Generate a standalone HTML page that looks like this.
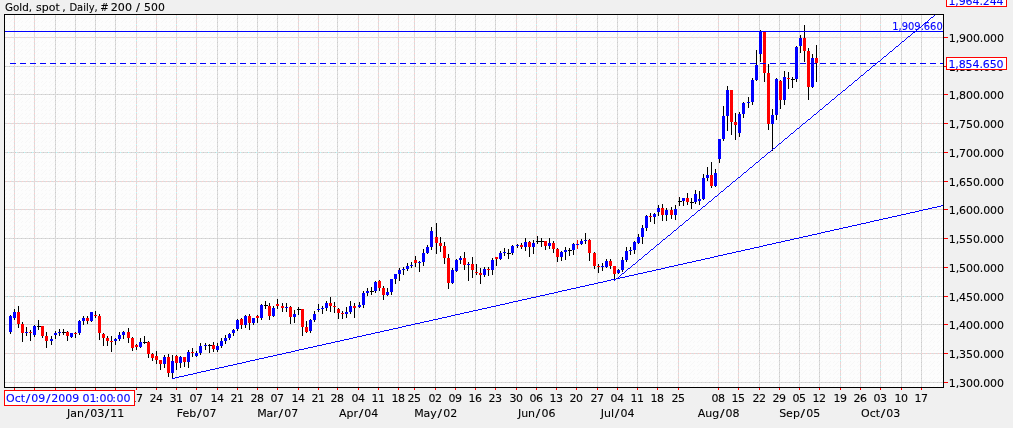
<!DOCTYPE html>
<html><head><meta charset="utf-8"><title>Gold, spot, Daily</title>
<style>
html,body{margin:0;padding:0;background:#f0f0f0;overflow:hidden}
#c{position:relative;width:1013px;height:428px;background:#f0f0f0;overflow:hidden;font-family:"DejaVu Sans","Liberation Sans",sans-serif;font-size:11px;line-height:14px;color:#000;white-space:nowrap}
#c svg{position:absolute;left:0;top:0}
.tx text{font-family:"DejaVu Sans","Liberation Sans",sans-serif;font-size:11px;white-space:pre;stroke-width:0.1px;stroke-linejoin:round}
.tx text{stroke:#000}.tx text[fill]{stroke:#0000ff}
.tx .ti{letter-spacing:0px}
.tx .yl{letter-spacing:-0.1px}
.tx .xl{letter-spacing:-0.4px}
.tx .ml{letter-spacing:0px}
.tx .dt{letter-spacing:0px}
.tx .pl{font-family:"DejaVu Sans Condensed","DejaVu Sans","Liberation Sans",sans-serif;font-size:11px;letter-spacing:0px}
</style></head><body><div id="c">
<svg width="1013" height="428" viewBox="0 0 1013 428" shape-rendering="crispEdges">
<defs><pattern id="h" width="8" height="8" patternUnits="userSpaceOnUse"><rect width="8" height="8" fill="#fdfdfd"/><rect x="2" y="1" width="1" height="1" fill="#f7f7f7"/><rect x="6" y="1" width="1" height="1" fill="#f7f7f7"/><rect x="1" y="2" width="1" height="1" fill="#f7f7f7"/><rect x="5" y="2" width="1" height="1" fill="#f7f7f7"/><rect x="4" y="3" width="1" height="1" fill="#f7f7f7"/><rect x="3" y="4" width="1" height="1" fill="#f7f7f7"/><rect x="2" y="5" width="1" height="1" fill="#f7f7f7"/><rect x="6" y="5" width="1" height="1" fill="#f7f7f7"/><rect x="1" y="6" width="1" height="1" fill="#f7f7f7"/><rect x="5" y="6" width="1" height="1" fill="#f7f7f7"/></pattern><pattern id="gp" width="8" height="8" patternUnits="userSpaceOnUse"><rect width="8" height="8" fill="#dddddd"/><rect x="0" y="0" width="1" height="1" fill="#b8ffff"/><rect x="0" y="1" width="1" height="1" fill="#d9d9d9"/><rect x="0" y="3" width="1" height="1" fill="#ffcaca"/><rect x="0" y="5" width="1" height="1" fill="#d9d9d9"/><rect x="0" y="7" width="1" height="1" fill="#ffcaca"/><rect x="1" y="0" width="1" height="1" fill="#d9d9d9"/><rect x="1" y="2" width="1" height="1" fill="#cbcbcb"/><rect x="1" y="4" width="1" height="1" fill="#d9d9d9"/><rect x="1" y="6" width="1" height="1" fill="#cbcbcb"/><rect x="2" y="1" width="1" height="1" fill="#ffcaca"/><rect x="2" y="3" width="1" height="1" fill="#d9d9d9"/><rect x="2" y="5" width="1" height="1" fill="#ffcaca"/><rect x="2" y="7" width="1" height="1" fill="#d9d9d9"/><rect x="3" y="0" width="1" height="1" fill="#cbcbcb"/><rect x="3" y="2" width="1" height="1" fill="#d9d9d9"/><rect x="3" y="4" width="1" height="1" fill="#cbcbcb"/><rect x="3" y="6" width="1" height="1" fill="#d9d9d9"/><rect x="4" y="1" width="1" height="1" fill="#d9d9d9"/><rect x="4" y="3" width="1" height="1" fill="#ffcaca"/><rect x="4" y="5" width="1" height="1" fill="#d9d9d9"/><rect x="4" y="7" width="1" height="1" fill="#ffcaca"/><rect x="5" y="0" width="1" height="1" fill="#d9d9d9"/><rect x="5" y="2" width="1" height="1" fill="#cbcbcb"/><rect x="5" y="4" width="1" height="1" fill="#d9d9d9"/><rect x="5" y="6" width="1" height="1" fill="#cbcbcb"/><rect x="6" y="1" width="1" height="1" fill="#ffcaca"/><rect x="6" y="3" width="1" height="1" fill="#d9d9d9"/><rect x="6" y="5" width="1" height="1" fill="#ffcaca"/><rect x="6" y="7" width="1" height="1" fill="#d9d9d9"/><rect x="7" y="0" width="1" height="1" fill="#cbcbcb"/><rect x="7" y="2" width="1" height="1" fill="#d9d9d9"/><rect x="7" y="4" width="1" height="1" fill="#cbcbcb"/><rect x="7" y="6" width="1" height="1" fill="#d9d9d9"/></pattern></defs>
<rect x="4" y="14" width="940" height="374" fill="url(#h)"/>
<g fill="url(#gp)"><rect x="5" y="37" width="938" height="1"/><rect x="5" y="66" width="938" height="1"/><rect x="5" y="94" width="938" height="1"/><rect x="5" y="123" width="938" height="1"/><rect x="5" y="152" width="938" height="1"/><rect x="5" y="181" width="938" height="1"/><rect x="5" y="209" width="938" height="1"/><rect x="5" y="238" width="938" height="1"/><rect x="5" y="267" width="938" height="1"/><rect x="5" y="296" width="938" height="1"/><rect x="5" y="324" width="938" height="1"/><rect x="5" y="353" width="938" height="1"/><rect x="5" y="382" width="938" height="1"/><rect x="14" y="15" width="1" height="372"/><rect x="34" y="15" width="1" height="372"/><rect x="55" y="15" width="1" height="372"/><rect x="75" y="15" width="1" height="372"/><rect x="95" y="15" width="1" height="372"/><rect x="115" y="15" width="1" height="372"/><rect x="136" y="15" width="1" height="372"/><rect x="156" y="15" width="1" height="372"/><rect x="176" y="15" width="1" height="372"/><rect x="196" y="15" width="1" height="372"/><rect x="217" y="15" width="1" height="372"/><rect x="237" y="15" width="1" height="372"/><rect x="257" y="15" width="1" height="372"/><rect x="277" y="15" width="1" height="372"/><rect x="298" y="15" width="1" height="372"/><rect x="318" y="15" width="1" height="372"/><rect x="337" y="15" width="1" height="372"/><rect x="358" y="15" width="1" height="372"/><rect x="378" y="15" width="1" height="372"/><rect x="398" y="15" width="1" height="372"/><rect x="414" y="15" width="1" height="372"/><rect x="435" y="15" width="1" height="372"/><rect x="455" y="15" width="1" height="372"/><rect x="475" y="15" width="1" height="372"/><rect x="495" y="15" width="1" height="372"/><rect x="516" y="15" width="1" height="372"/><rect x="536" y="15" width="1" height="372"/><rect x="556" y="15" width="1" height="372"/><rect x="576" y="15" width="1" height="372"/><rect x="597" y="15" width="1" height="372"/><rect x="617" y="15" width="1" height="372"/><rect x="637" y="15" width="1" height="372"/><rect x="657" y="15" width="1" height="372"/><rect x="678" y="15" width="1" height="372"/><rect x="718" y="15" width="1" height="372"/><rect x="738" y="15" width="1" height="372"/><rect x="759" y="15" width="1" height="372"/><rect x="779" y="15" width="1" height="372"/><rect x="799" y="15" width="1" height="372"/><rect x="819" y="15" width="1" height="372"/><rect x="840" y="15" width="1" height="372"/><rect x="860" y="15" width="1" height="372"/><rect x="880" y="15" width="1" height="372"/><rect x="901" y="15" width="1" height="372"/><rect x="921" y="15" width="1" height="372"/></g>
<g><rect x="14" y="388" width="1" height="2" fill="#ff0000"/><rect x="34" y="388" width="1" height="2" fill="#ff0000"/><rect x="55" y="388" width="1" height="2" fill="#ff0000"/><rect x="75" y="388" width="1" height="2" fill="#ff0000"/><rect x="95" y="388" width="1" height="2" fill="#ff0000"/><rect x="115" y="388" width="1" height="2" fill="#ff0000"/><rect x="136" y="388" width="1" height="2" fill="#ff0000"/><rect x="156" y="388" width="1" height="2" fill="#ff0000"/><rect x="176" y="388" width="1" height="2" fill="#ff0000"/><rect x="196" y="388" width="1" height="2" fill="#ff0000"/><rect x="217" y="388" width="1" height="2" fill="#ff0000"/><rect x="237" y="388" width="1" height="2" fill="#ff0000"/><rect x="257" y="388" width="1" height="2" fill="#ff0000"/><rect x="277" y="388" width="1" height="2" fill="#ff0000"/><rect x="298" y="388" width="1" height="2" fill="#ff0000"/><rect x="318" y="388" width="1" height="2" fill="#ff0000"/><rect x="337" y="388" width="1" height="2" fill="#ff0000"/><rect x="358" y="388" width="1" height="2" fill="#ff0000"/><rect x="378" y="388" width="1" height="2" fill="#ff0000"/><rect x="398" y="388" width="1" height="2" fill="#ff0000"/><rect x="414" y="388" width="1" height="2" fill="#ff0000"/><rect x="435" y="388" width="1" height="2" fill="#ff0000"/><rect x="455" y="388" width="1" height="2" fill="#ff0000"/><rect x="475" y="388" width="1" height="2" fill="#ff0000"/><rect x="495" y="388" width="1" height="2" fill="#ff0000"/><rect x="516" y="388" width="1" height="2" fill="#ff0000"/><rect x="536" y="388" width="1" height="2" fill="#ff0000"/><rect x="556" y="388" width="1" height="2" fill="#ff0000"/><rect x="576" y="388" width="1" height="2" fill="#ff0000"/><rect x="597" y="388" width="1" height="2" fill="#ff0000"/><rect x="617" y="388" width="1" height="2" fill="#ff0000"/><rect x="637" y="388" width="1" height="2" fill="#ff0000"/><rect x="657" y="388" width="1" height="2" fill="#ff0000"/><rect x="678" y="388" width="1" height="2" fill="#ff0000"/><rect x="718" y="388" width="1" height="2" fill="#ff0000"/><rect x="738" y="388" width="1" height="2" fill="#ff0000"/><rect x="759" y="388" width="1" height="2" fill="#ff0000"/><rect x="779" y="388" width="1" height="2" fill="#ff0000"/><rect x="799" y="388" width="1" height="2" fill="#ff0000"/><rect x="819" y="388" width="1" height="2" fill="#ff0000"/><rect x="840" y="388" width="1" height="2" fill="#ff0000"/><rect x="860" y="388" width="1" height="2" fill="#ff0000"/><rect x="880" y="388" width="1" height="2" fill="#ff0000"/><rect x="901" y="388" width="1" height="2" fill="#ff0000"/><rect x="921" y="388" width="1" height="2" fill="#ff0000"/><rect x="944" y="37" width="4" height="1" fill="#ff0000"/><rect x="944" y="66" width="4" height="1" fill="#ff0000"/><rect x="944" y="94" width="4" height="1" fill="#ff0000"/><rect x="944" y="123" width="4" height="1" fill="#ff0000"/><rect x="944" y="152" width="4" height="1" fill="#ff0000"/><rect x="944" y="181" width="4" height="1" fill="#ff0000"/><rect x="944" y="209" width="4" height="1" fill="#ff0000"/><rect x="944" y="238" width="4" height="1" fill="#ff0000"/><rect x="944" y="267" width="4" height="1" fill="#ff0000"/><rect x="944" y="296" width="4" height="1" fill="#ff0000"/><rect x="944" y="324" width="4" height="1" fill="#ff0000"/><rect x="944" y="353" width="4" height="1" fill="#ff0000"/><rect x="944" y="382" width="4" height="1" fill="#ff0000"/></g>
<g><rect x="10" y="315" width="1" height="19" fill="#000"/><rect x="9" y="316" width="3" height="16" fill="#0000ff"/><rect x="14" y="309" width="1" height="11" fill="#000"/><rect x="13" y="312" width="3" height="6" fill="#0000ff"/><rect x="18" y="306" width="1" height="22" fill="#000"/><rect x="17" y="312" width="3" height="12" fill="#ff0000"/><rect x="22" y="322" width="1" height="20" fill="#000"/><rect x="21" y="324" width="3" height="9" fill="#ff0000"/><rect x="26" y="327" width="1" height="9" fill="#000"/><rect x="25" y="332" width="3" height="1" fill="#0000ff"/><rect x="30" y="330" width="1" height="11" fill="#000"/><rect x="29" y="332" width="3" height="1" fill="#ff0000"/><rect x="34" y="325" width="1" height="12" fill="#000"/><rect x="33" y="326" width="3" height="9" fill="#0000ff"/><rect x="38" y="320" width="1" height="10" fill="#000"/><rect x="37" y="326" width="4" height="1" fill="#000"/><rect x="42" y="326" width="1" height="12" fill="#000"/><rect x="41" y="326" width="3" height="10" fill="#ff0000"/><rect x="46" y="332" width="1" height="16" fill="#000"/><rect x="45" y="336" width="3" height="5" fill="#ff0000"/><rect x="51" y="336" width="1" height="9" fill="#000"/><rect x="50" y="339" width="3" height="2" fill="#0000ff"/><rect x="55" y="331" width="1" height="8" fill="#000"/><rect x="54" y="333" width="3" height="2" fill="#0000ff"/><rect x="59" y="329" width="1" height="7" fill="#000"/><rect x="58" y="332" width="3" height="1" fill="#0000ff"/><rect x="63" y="329" width="1" height="6" fill="#000"/><rect x="62" y="332" width="4" height="1" fill="#000"/><rect x="67" y="331" width="1" height="10" fill="#000"/><rect x="66" y="332" width="3" height="4" fill="#ff0000"/><rect x="71" y="333" width="1" height="5" fill="#000"/><rect x="70" y="333" width="3" height="4" fill="#0000ff"/><rect x="75" y="332" width="1" height="6" fill="#000"/><rect x="74" y="333" width="3" height="1" fill="#ff0000"/><rect x="79" y="320" width="1" height="15" fill="#000"/><rect x="78" y="321" width="3" height="12" fill="#0000ff"/><rect x="83" y="316" width="1" height="9" fill="#000"/><rect x="82" y="318" width="3" height="3" fill="#0000ff"/><rect x="87" y="316" width="1" height="8" fill="#000"/><rect x="86" y="318" width="3" height="3" fill="#ff0000"/><rect x="91" y="312" width="1" height="10" fill="#000"/><rect x="90" y="312" width="3" height="9" fill="#0000ff"/><rect x="95" y="311" width="1" height="7" fill="#000"/><rect x="94" y="315" width="3" height="1" fill="#ff0000"/><rect x="99" y="314" width="1" height="26" fill="#000"/><rect x="98" y="316" width="3" height="17" fill="#ff0000"/><rect x="103" y="333" width="1" height="13" fill="#000"/><rect x="102" y="334" width="3" height="4" fill="#ff0000"/><rect x="107" y="336" width="1" height="10" fill="#000"/><rect x="106" y="338" width="3" height="3" fill="#ff0000"/><rect x="111" y="336" width="1" height="16" fill="#000"/><rect x="110" y="341" width="3" height="1" fill="#ff0000"/><rect x="115" y="338" width="1" height="7" fill="#000"/><rect x="114" y="339" width="3" height="2" fill="#0000ff"/><rect x="119" y="332" width="1" height="9" fill="#000"/><rect x="118" y="335" width="3" height="4" fill="#0000ff"/><rect x="123" y="331" width="1" height="8" fill="#000"/><rect x="122" y="332" width="3" height="3" fill="#0000ff"/><rect x="128" y="328" width="1" height="15" fill="#000"/><rect x="127" y="332" width="3" height="6" fill="#ff0000"/><rect x="132" y="337" width="1" height="14" fill="#000"/><rect x="131" y="338" width="3" height="10" fill="#ff0000"/><rect x="136" y="344" width="1" height="6" fill="#000"/><rect x="135" y="345" width="3" height="2" fill="#ff0000"/><rect x="140" y="338" width="1" height="10" fill="#000"/><rect x="139" y="342" width="3" height="5" fill="#0000ff"/><rect x="144" y="336" width="1" height="8" fill="#000"/><rect x="143" y="342" width="4" height="1" fill="#000"/><rect x="148" y="341" width="1" height="17" fill="#000"/><rect x="147" y="342" width="3" height="12" fill="#ff0000"/><rect x="152" y="353" width="1" height="8" fill="#000"/><rect x="151" y="354" width="3" height="4" fill="#ff0000"/><rect x="156" y="351" width="1" height="13" fill="#000"/><rect x="155" y="356" width="3" height="4" fill="#ff0000"/><rect x="160" y="360" width="1" height="10" fill="#000"/><rect x="159" y="360" width="3" height="4" fill="#ff0000"/><rect x="164" y="355" width="1" height="13" fill="#000"/><rect x="163" y="357" width="3" height="7" fill="#0000ff"/><rect x="168" y="354" width="1" height="23" fill="#000"/><rect x="167" y="357" width="3" height="16" fill="#ff0000"/><rect x="172" y="355" width="1" height="24" fill="#000"/><rect x="171" y="361" width="3" height="12" fill="#0000ff"/><rect x="176" y="355" width="1" height="15" fill="#000"/><rect x="175" y="356" width="3" height="7" fill="#ff0000"/><rect x="180" y="356" width="1" height="12" fill="#000"/><rect x="179" y="357" width="3" height="6" fill="#0000ff"/><rect x="184" y="357" width="1" height="10" fill="#000"/><rect x="183" y="357" width="3" height="5" fill="#ff0000"/><rect x="188" y="350" width="1" height="18" fill="#000"/><rect x="187" y="352" width="3" height="10" fill="#0000ff"/><rect x="192" y="348" width="1" height="9" fill="#000"/><rect x="191" y="352" width="3" height="1" fill="#ff0000"/><rect x="196" y="351" width="1" height="6" fill="#000"/><rect x="195" y="353" width="3" height="3" fill="#0000ff"/><rect x="200" y="343" width="1" height="12" fill="#000"/><rect x="199" y="346" width="3" height="7" fill="#0000ff"/><rect x="205" y="343" width="1" height="7" fill="#000"/><rect x="204" y="345" width="3" height="1" fill="#0000ff"/><rect x="209" y="344" width="1" height="9" fill="#000"/><rect x="208" y="345" width="4" height="1" fill="#000"/><rect x="213" y="342" width="1" height="10" fill="#000"/><rect x="212" y="345" width="3" height="4" fill="#ff0000"/><rect x="217" y="343" width="1" height="9" fill="#000"/><rect x="216" y="346" width="3" height="4" fill="#0000ff"/><rect x="221" y="338" width="1" height="10" fill="#000"/><rect x="220" y="341" width="3" height="5" fill="#0000ff"/><rect x="225" y="335" width="1" height="9" fill="#000"/><rect x="224" y="338" width="3" height="3" fill="#0000ff"/><rect x="229" y="333" width="1" height="7" fill="#000"/><rect x="228" y="334" width="3" height="4" fill="#0000ff"/><rect x="233" y="329" width="1" height="7" fill="#000"/><rect x="232" y="330" width="3" height="3" fill="#0000ff"/><rect x="237" y="319" width="1" height="12" fill="#000"/><rect x="236" y="320" width="3" height="9" fill="#0000ff"/><rect x="241" y="318" width="1" height="11" fill="#000"/><rect x="240" y="319" width="3" height="6" fill="#ff0000"/><rect x="245" y="315" width="1" height="13" fill="#000"/><rect x="244" y="316" width="3" height="9" fill="#0000ff"/><rect x="249" y="314" width="1" height="16" fill="#000"/><rect x="248" y="316" width="3" height="7" fill="#ff0000"/><rect x="253" y="318" width="1" height="7" fill="#000"/><rect x="252" y="318" width="3" height="5" fill="#0000ff"/><rect x="257" y="315" width="1" height="8" fill="#000"/><rect x="256" y="316" width="3" height="2" fill="#ff0000"/><rect x="261" y="304" width="1" height="16" fill="#000"/><rect x="260" y="305" width="3" height="13" fill="#0000ff"/><rect x="265" y="301" width="1" height="8" fill="#000"/><rect x="264" y="305" width="4" height="1" fill="#000"/><rect x="269" y="303" width="1" height="17" fill="#000"/><rect x="268" y="306" width="3" height="10" fill="#ff0000"/><rect x="273" y="306" width="1" height="11" fill="#000"/><rect x="272" y="308" width="3" height="8" fill="#0000ff"/><rect x="277" y="299" width="1" height="10" fill="#000"/><rect x="276" y="304" width="3" height="2" fill="#ff0000"/><rect x="282" y="303" width="1" height="9" fill="#000"/><rect x="281" y="306" width="3" height="2" fill="#ff0000"/><rect x="286" y="303" width="1" height="9" fill="#000"/><rect x="285" y="307" width="3" height="1" fill="#0000ff"/><rect x="290" y="306" width="1" height="18" fill="#000"/><rect x="289" y="307" width="3" height="10" fill="#ff0000"/><rect x="294" y="310" width="1" height="13" fill="#000"/><rect x="293" y="314" width="3" height="3" fill="#0000ff"/><rect x="298" y="307" width="1" height="8" fill="#000"/><rect x="297" y="309" width="4" height="1" fill="#000"/><rect x="302" y="309" width="1" height="27" fill="#000"/><rect x="301" y="309" width="3" height="18" fill="#ff0000"/><rect x="306" y="321" width="1" height="12" fill="#000"/><rect x="305" y="327" width="3" height="5" fill="#ff0000"/><rect x="310" y="319" width="1" height="14" fill="#000"/><rect x="309" y="320" width="3" height="11" fill="#0000ff"/><rect x="314" y="311" width="1" height="11" fill="#000"/><rect x="313" y="314" width="3" height="6" fill="#0000ff"/><rect x="318" y="304" width="1" height="8" fill="#000"/><rect x="317" y="309" width="3" height="1" fill="#0000ff"/><rect x="322" y="306" width="1" height="8" fill="#000"/><rect x="321" y="308" width="3" height="1" fill="#0000ff"/><rect x="326" y="301" width="1" height="10" fill="#000"/><rect x="325" y="303" width="3" height="5" fill="#0000ff"/><rect x="330" y="297" width="1" height="15" fill="#000"/><rect x="329" y="303" width="3" height="3" fill="#ff0000"/><rect x="334" y="302" width="1" height="11" fill="#000"/><rect x="333" y="306" width="3" height="1" fill="#ff0000"/><rect x="338" y="308" width="1" height="11" fill="#000"/><rect x="337" y="309" width="3" height="4" fill="#ff0000"/><rect x="342" y="311" width="1" height="8" fill="#000"/><rect x="341" y="313" width="3" height="1" fill="#ff0000"/><rect x="346" y="307" width="1" height="11" fill="#000"/><rect x="345" y="312" width="3" height="2" fill="#0000ff"/><rect x="350" y="301" width="1" height="13" fill="#000"/><rect x="349" y="306" width="3" height="6" fill="#0000ff"/><rect x="354" y="303" width="1" height="15" fill="#000"/><rect x="353" y="306" width="3" height="2" fill="#ff0000"/><rect x="359" y="302" width="1" height="6" fill="#000"/><rect x="358" y="305" width="3" height="2" fill="#0000ff"/><rect x="363" y="291" width="1" height="17" fill="#000"/><rect x="362" y="293" width="3" height="12" fill="#0000ff"/><rect x="367" y="288" width="1" height="8" fill="#000"/><rect x="366" y="291" width="3" height="2" fill="#0000ff"/><rect x="371" y="287" width="1" height="8" fill="#000"/><rect x="370" y="291" width="4" height="1" fill="#000"/><rect x="375" y="281" width="1" height="12" fill="#000"/><rect x="374" y="282" width="3" height="9" fill="#0000ff"/><rect x="379" y="280" width="1" height="11" fill="#000"/><rect x="378" y="281" width="3" height="7" fill="#ff0000"/><rect x="383" y="286" width="1" height="14" fill="#000"/><rect x="382" y="288" width="3" height="7" fill="#ff0000"/><rect x="387" y="288" width="1" height="8" fill="#000"/><rect x="386" y="292" width="3" height="3" fill="#0000ff"/><rect x="391" y="279" width="1" height="16" fill="#000"/><rect x="390" y="279" width="3" height="13" fill="#0000ff"/><rect x="395" y="274" width="1" height="10" fill="#000"/><rect x="394" y="274" width="3" height="5" fill="#0000ff"/><rect x="399" y="268" width="1" height="13" fill="#000"/><rect x="398" y="270" width="3" height="4" fill="#0000ff"/><rect x="403" y="267" width="1" height="8" fill="#000"/><rect x="402" y="269" width="3" height="1" fill="#0000ff"/><rect x="407" y="263" width="1" height="8" fill="#000"/><rect x="406" y="266" width="3" height="3" fill="#0000ff"/><rect x="411" y="262" width="1" height="6" fill="#000"/><rect x="410" y="265" width="3" height="1" fill="#0000ff"/><rect x="415" y="256" width="1" height="11" fill="#000"/><rect x="414" y="260" width="3" height="3" fill="#ff0000"/><rect x="419" y="261" width="1" height="11" fill="#000"/><rect x="418" y="262" width="3" height="1" fill="#0000ff"/><rect x="423" y="249" width="1" height="17" fill="#000"/><rect x="422" y="253" width="3" height="9" fill="#0000ff"/><rect x="427" y="245" width="1" height="9" fill="#000"/><rect x="426" y="247" width="3" height="6" fill="#0000ff"/><rect x="431" y="227" width="1" height="23" fill="#000"/><rect x="430" y="231" width="3" height="16" fill="#0000ff"/><rect x="436" y="223" width="1" height="31" fill="#000"/><rect x="435" y="237" width="3" height="6" fill="#ff0000"/><rect x="440" y="237" width="1" height="15" fill="#000"/><rect x="439" y="243" width="3" height="3" fill="#ff0000"/><rect x="444" y="242" width="1" height="22" fill="#000"/><rect x="443" y="246" width="3" height="12" fill="#ff0000"/><rect x="448" y="254" width="1" height="35" fill="#000"/><rect x="447" y="258" width="3" height="25" fill="#ff0000"/><rect x="452" y="268" width="1" height="16" fill="#000"/><rect x="451" y="270" width="3" height="13" fill="#0000ff"/><rect x="456" y="259" width="1" height="13" fill="#000"/><rect x="455" y="260" width="3" height="11" fill="#0000ff"/><rect x="460" y="256" width="1" height="8" fill="#000"/><rect x="459" y="258" width="3" height="2" fill="#0000ff"/><rect x="464" y="252" width="1" height="18" fill="#000"/><rect x="463" y="258" width="3" height="7" fill="#ff0000"/><rect x="468" y="262" width="1" height="19" fill="#000"/><rect x="467" y="264" width="3" height="1" fill="#0000ff"/><rect x="472" y="257" width="1" height="21" fill="#000"/><rect x="471" y="264" width="3" height="6" fill="#ff0000"/><rect x="476" y="264" width="1" height="11" fill="#000"/><rect x="475" y="272" width="3" height="1" fill="#ff0000"/><rect x="480" y="268" width="1" height="16" fill="#000"/><rect x="479" y="273" width="3" height="2" fill="#ff0000"/><rect x="484" y="267" width="1" height="10" fill="#000"/><rect x="483" y="269" width="3" height="6" fill="#0000ff"/><rect x="488" y="267" width="1" height="9" fill="#000"/><rect x="487" y="269" width="3" height="1" fill="#ff0000"/><rect x="492" y="258" width="1" height="17" fill="#000"/><rect x="491" y="260" width="3" height="10" fill="#0000ff"/><rect x="496" y="257" width="1" height="9" fill="#000"/><rect x="495" y="257" width="3" height="2" fill="#ff0000"/><rect x="500" y="251" width="1" height="9" fill="#000"/><rect x="499" y="253" width="3" height="6" fill="#0000ff"/><rect x="504" y="248" width="1" height="8" fill="#000"/><rect x="503" y="252" width="3" height="1" fill="#0000ff"/><rect x="508" y="249" width="1" height="10" fill="#000"/><rect x="507" y="253" width="4" height="1" fill="#000"/><rect x="512" y="245" width="1" height="10" fill="#000"/><rect x="511" y="246" width="3" height="7" fill="#0000ff"/><rect x="517" y="244" width="1" height="4" fill="#000"/><rect x="516" y="245" width="3" height="1" fill="#0000ff"/><rect x="521" y="243" width="1" height="6" fill="#000"/><rect x="520" y="245" width="3" height="2" fill="#ff0000"/><rect x="525" y="238" width="1" height="13" fill="#000"/><rect x="524" y="242" width="3" height="5" fill="#0000ff"/><rect x="529" y="241" width="1" height="16" fill="#000"/><rect x="528" y="242" width="3" height="5" fill="#ff0000"/><rect x="533" y="240" width="1" height="14" fill="#000"/><rect x="532" y="243" width="3" height="4" fill="#0000ff"/><rect x="537" y="236" width="1" height="8" fill="#000"/><rect x="536" y="241" width="4" height="1" fill="#000"/><rect x="541" y="238" width="1" height="9" fill="#000"/><rect x="540" y="241" width="4" height="1" fill="#000"/><rect x="545" y="241" width="1" height="9" fill="#000"/><rect x="544" y="241" width="3" height="5" fill="#ff0000"/><rect x="549" y="238" width="1" height="11" fill="#000"/><rect x="548" y="243" width="3" height="3" fill="#0000ff"/><rect x="553" y="241" width="1" height="12" fill="#000"/><rect x="552" y="243" width="3" height="6" fill="#ff0000"/><rect x="557" y="248" width="1" height="14" fill="#000"/><rect x="556" y="249" width="3" height="8" fill="#ff0000"/><rect x="561" y="251" width="1" height="10" fill="#000"/><rect x="560" y="252" width="3" height="5" fill="#0000ff"/><rect x="565" y="247" width="1" height="13" fill="#000"/><rect x="564" y="250" width="3" height="2" fill="#0000ff"/><rect x="569" y="248" width="1" height="8" fill="#000"/><rect x="568" y="250" width="4" height="1" fill="#000"/><rect x="573" y="243" width="1" height="12" fill="#000"/><rect x="572" y="244" width="3" height="6" fill="#0000ff"/><rect x="577" y="240" width="1" height="9" fill="#ff0000"/><rect x="576" y="244" width="3" height="1" fill="#0000ff"/><rect x="581" y="239" width="1" height="6" fill="#000"/><rect x="580" y="241" width="3" height="3" fill="#0000ff"/><rect x="585" y="233" width="1" height="11" fill="#000"/><rect x="584" y="240" width="3" height="1" fill="#0000ff"/><rect x="589" y="239" width="1" height="22" fill="#000"/><rect x="588" y="240" width="3" height="13" fill="#ff0000"/><rect x="594" y="252" width="1" height="17" fill="#000"/><rect x="593" y="253" width="3" height="13" fill="#ff0000"/><rect x="598" y="264" width="1" height="9" fill="#000"/><rect x="597" y="266" width="3" height="1" fill="#ff0000"/><rect x="602" y="263" width="1" height="8" fill="#000"/><rect x="601" y="266" width="3" height="1" fill="#0000ff"/><rect x="606" y="259" width="1" height="9" fill="#000"/><rect x="605" y="261" width="3" height="6" fill="#0000ff"/><rect x="610" y="259" width="1" height="10" fill="#000"/><rect x="609" y="261" width="3" height="5" fill="#ff0000"/><rect x="614" y="266" width="1" height="14" fill="#000"/><rect x="613" y="266" width="3" height="8" fill="#ff0000"/><rect x="618" y="269" width="1" height="5" fill="#000"/><rect x="617" y="270" width="3" height="3" fill="#0000ff"/><rect x="622" y="257" width="1" height="15" fill="#000"/><rect x="621" y="260" width="3" height="10" fill="#0000ff"/><rect x="626" y="247" width="1" height="15" fill="#000"/><rect x="625" y="251" width="3" height="9" fill="#0000ff"/><rect x="630" y="247" width="1" height="8" fill="#000"/><rect x="629" y="250" width="3" height="1" fill="#0000ff"/><rect x="634" y="241" width="1" height="13" fill="#000"/><rect x="633" y="242" width="3" height="8" fill="#0000ff"/><rect x="638" y="234" width="1" height="10" fill="#000"/><rect x="637" y="237" width="3" height="6" fill="#0000ff"/><rect x="642" y="225" width="1" height="19" fill="#000"/><rect x="641" y="228" width="3" height="9" fill="#0000ff"/><rect x="646" y="215" width="1" height="16" fill="#000"/><rect x="645" y="216" width="3" height="12" fill="#0000ff"/><rect x="650" y="213" width="1" height="9" fill="#000"/><rect x="649" y="216" width="3" height="1" fill="#ff0000"/><rect x="654" y="213" width="1" height="11" fill="#000"/><rect x="653" y="214" width="3" height="3" fill="#0000ff"/><rect x="658" y="205" width="1" height="11" fill="#000"/><rect x="657" y="208" width="3" height="4" fill="#0000ff"/><rect x="662" y="204" width="1" height="17" fill="#000"/><rect x="661" y="208" width="3" height="7" fill="#ff0000"/><rect x="666" y="208" width="1" height="13" fill="#000"/><rect x="665" y="210" width="3" height="5" fill="#0000ff"/><rect x="671" y="207" width="1" height="12" fill="#000"/><rect x="670" y="210" width="3" height="5" fill="#ff0000"/><rect x="675" y="205" width="1" height="15" fill="#000"/><rect x="674" y="209" width="3" height="6" fill="#0000ff"/><rect x="679" y="197" width="1" height="9" fill="#000"/><rect x="678" y="201" width="4" height="1" fill="#000"/><rect x="683" y="198" width="1" height="8" fill="#000"/><rect x="682" y="198" width="3" height="3" fill="#0000ff"/><rect x="687" y="193" width="1" height="12" fill="#000"/><rect x="686" y="198" width="3" height="4" fill="#ff0000"/><rect x="691" y="198" width="1" height="11" fill="#000"/><rect x="690" y="202" width="4" height="1" fill="#000"/><rect x="695" y="190" width="1" height="14" fill="#000"/><rect x="694" y="194" width="3" height="8" fill="#0000ff"/><rect x="699" y="191" width="1" height="14" fill="#000"/><rect x="698" y="199" width="3" height="2" fill="#0000ff"/><rect x="703" y="174" width="1" height="26" fill="#000"/><rect x="702" y="178" width="3" height="21" fill="#0000ff"/><rect x="707" y="167" width="1" height="14" fill="#000"/><rect x="706" y="175" width="3" height="3" fill="#0000ff"/><rect x="711" y="162" width="1" height="26" fill="#000"/><rect x="710" y="175" width="3" height="11" fill="#ff0000"/><rect x="715" y="169" width="1" height="18" fill="#000"/><rect x="714" y="173" width="3" height="13" fill="#0000ff"/><rect x="719" y="139" width="1" height="24" fill="#000"/><rect x="718" y="139" width="3" height="20" fill="#0000ff"/><rect x="723" y="106" width="1" height="35" fill="#000"/><rect x="722" y="116" width="3" height="23" fill="#0000ff"/><rect x="727" y="86" width="1" height="45" fill="#000"/><rect x="726" y="90" width="3" height="26" fill="#0000ff"/><rect x="731" y="90" width="1" height="45" fill="#000"/><rect x="730" y="90" width="3" height="32" fill="#ff0000"/><rect x="735" y="113" width="1" height="27" fill="#000"/><rect x="734" y="122" width="3" height="3" fill="#ff0000"/><rect x="739" y="112" width="1" height="25" fill="#000"/><rect x="738" y="114" width="3" height="19" fill="#0000ff"/><rect x="743" y="102" width="1" height="16" fill="#000"/><rect x="742" y="103" width="3" height="11" fill="#0000ff"/><rect x="748" y="97" width="1" height="11" fill="#000"/><rect x="747" y="102" width="3" height="1" fill="#0000ff"/><rect x="752" y="78" width="1" height="27" fill="#000"/><rect x="751" y="80" width="3" height="22" fill="#0000ff"/><rect x="756" y="50" width="1" height="31" fill="#000"/><rect x="755" y="65" width="3" height="15" fill="#0000ff"/><rect x="760" y="30" width="1" height="32" fill="#000"/><rect x="759" y="31" width="3" height="23" fill="#0000ff"/><rect x="764" y="32" width="1" height="50" fill="#000"/><rect x="763" y="32" width="3" height="41" fill="#ff0000"/><rect x="768" y="64" width="1" height="66" fill="#000"/><rect x="767" y="73" width="3" height="51" fill="#ff0000"/><rect x="772" y="109" width="1" height="42" fill="#000"/><rect x="771" y="115" width="3" height="9" fill="#0000ff"/><rect x="776" y="78" width="1" height="42" fill="#000"/><rect x="775" y="79" width="3" height="36" fill="#0000ff"/><rect x="780" y="80" width="1" height="29" fill="#000"/><rect x="779" y="81" width="3" height="19" fill="#ff0000"/><rect x="784" y="71" width="1" height="34" fill="#000"/><rect x="783" y="77" width="3" height="23" fill="#0000ff"/><rect x="788" y="72" width="1" height="17" fill="#000"/><rect x="787" y="78" width="3" height="1" fill="#ff0000"/><rect x="792" y="77" width="1" height="11" fill="#000"/><rect x="791" y="79" width="4" height="1" fill="#000"/><rect x="796" y="46" width="1" height="36" fill="#000"/><rect x="795" y="47" width="3" height="32" fill="#0000ff"/><rect x="800" y="35" width="1" height="18" fill="#000"/><rect x="799" y="38" width="3" height="8" fill="#0000ff"/><rect x="804" y="25" width="1" height="37" fill="#000"/><rect x="803" y="38" width="3" height="13" fill="#ff0000"/><rect x="808" y="48" width="1" height="52" fill="#000"/><rect x="807" y="51" width="3" height="36" fill="#ff0000"/><rect x="812" y="54" width="1" height="34" fill="#000"/><rect x="811" y="58" width="3" height="29" fill="#0000ff"/><rect x="816" y="45" width="1" height="37" fill="#000"/><rect x="815" y="58" width="3" height="5" fill="#ff0000"/></g>
<g fill="#0000ff"><rect x="5" y="31" width="938" height="1"/><rect x="10" y="63" width="6" height="1"/><rect x="20" y="63" width="6" height="1"/><rect x="30" y="63" width="6" height="1"/><rect x="40" y="63" width="6" height="1"/><rect x="50" y="63" width="6" height="1"/><rect x="60" y="63" width="6" height="1"/><rect x="70" y="63" width="6" height="1"/><rect x="80" y="63" width="6" height="1"/><rect x="90" y="63" width="6" height="1"/><rect x="100" y="63" width="6" height="1"/><rect x="110" y="63" width="6" height="1"/><rect x="120" y="63" width="6" height="1"/><rect x="130" y="63" width="6" height="1"/><rect x="140" y="63" width="6" height="1"/><rect x="150" y="63" width="6" height="1"/><rect x="160" y="63" width="6" height="1"/><rect x="170" y="63" width="6" height="1"/><rect x="180" y="63" width="6" height="1"/><rect x="190" y="63" width="6" height="1"/><rect x="200" y="63" width="6" height="1"/><rect x="210" y="63" width="6" height="1"/><rect x="220" y="63" width="6" height="1"/><rect x="230" y="63" width="6" height="1"/><rect x="240" y="63" width="6" height="1"/><rect x="250" y="63" width="6" height="1"/><rect x="260" y="63" width="6" height="1"/><rect x="270" y="63" width="6" height="1"/><rect x="280" y="63" width="6" height="1"/><rect x="290" y="63" width="6" height="1"/><rect x="300" y="63" width="6" height="1"/><rect x="310" y="63" width="6" height="1"/><rect x="320" y="63" width="6" height="1"/><rect x="330" y="63" width="6" height="1"/><rect x="340" y="63" width="6" height="1"/><rect x="350" y="63" width="6" height="1"/><rect x="360" y="63" width="6" height="1"/><rect x="370" y="63" width="6" height="1"/><rect x="380" y="63" width="6" height="1"/><rect x="390" y="63" width="6" height="1"/><rect x="400" y="63" width="6" height="1"/><rect x="410" y="63" width="6" height="1"/><rect x="420" y="63" width="6" height="1"/><rect x="430" y="63" width="6" height="1"/><rect x="440" y="63" width="6" height="1"/><rect x="450" y="63" width="6" height="1"/><rect x="460" y="63" width="6" height="1"/><rect x="470" y="63" width="6" height="1"/><rect x="480" y="63" width="6" height="1"/><rect x="490" y="63" width="6" height="1"/><rect x="500" y="63" width="6" height="1"/><rect x="510" y="63" width="6" height="1"/><rect x="520" y="63" width="6" height="1"/><rect x="530" y="63" width="6" height="1"/><rect x="540" y="63" width="6" height="1"/><rect x="550" y="63" width="6" height="1"/><rect x="560" y="63" width="6" height="1"/><rect x="570" y="63" width="6" height="1"/><rect x="580" y="63" width="6" height="1"/><rect x="590" y="63" width="6" height="1"/><rect x="600" y="63" width="6" height="1"/><rect x="610" y="63" width="6" height="1"/><rect x="620" y="63" width="6" height="1"/><rect x="630" y="63" width="6" height="1"/><rect x="640" y="63" width="6" height="1"/><rect x="650" y="63" width="6" height="1"/><rect x="660" y="63" width="6" height="1"/><rect x="670" y="63" width="6" height="1"/><rect x="680" y="63" width="6" height="1"/><rect x="690" y="63" width="6" height="1"/><rect x="700" y="63" width="6" height="1"/><rect x="710" y="63" width="6" height="1"/><rect x="720" y="63" width="6" height="1"/><rect x="730" y="63" width="6" height="1"/><rect x="740" y="63" width="6" height="1"/><rect x="750" y="63" width="6" height="1"/><rect x="760" y="63" width="6" height="1"/><rect x="770" y="63" width="6" height="1"/><rect x="780" y="63" width="6" height="1"/><rect x="790" y="63" width="6" height="1"/><rect x="800" y="63" width="6" height="1"/><rect x="810" y="63" width="6" height="1"/><rect x="820" y="63" width="6" height="1"/><rect x="830" y="63" width="6" height="1"/><rect x="840" y="63" width="6" height="1"/><rect x="850" y="63" width="6" height="1"/><rect x="860" y="63" width="6" height="1"/><rect x="870" y="63" width="6" height="1"/><rect x="880" y="63" width="6" height="1"/><rect x="890" y="63" width="6" height="1"/><rect x="900" y="63" width="6" height="1"/><rect x="910" y="63" width="6" height="1"/><rect x="920" y="63" width="6" height="1"/><rect x="930" y="63" width="6" height="1"/><rect x="940" y="63" width="3" height="1"/><rect x="172" y="378" width="3" height="1"/><rect x="175" y="377" width="4" height="1"/><rect x="179" y="376" width="5" height="1"/><rect x="184" y="375" width="4" height="1"/><rect x="188" y="374" width="5" height="1"/><rect x="193" y="373" width="4" height="1"/><rect x="197" y="372" width="4" height="1"/><rect x="201" y="371" width="5" height="1"/><rect x="206" y="370" width="4" height="1"/><rect x="210" y="369" width="5" height="1"/><rect x="215" y="368" width="4" height="1"/><rect x="219" y="367" width="5" height="1"/><rect x="224" y="366" width="4" height="1"/><rect x="228" y="365" width="5" height="1"/><rect x="233" y="364" width="4" height="1"/><rect x="237" y="363" width="5" height="1"/><rect x="242" y="362" width="4" height="1"/><rect x="246" y="361" width="4" height="1"/><rect x="250" y="360" width="5" height="1"/><rect x="255" y="359" width="4" height="1"/><rect x="259" y="358" width="5" height="1"/><rect x="264" y="357" width="4" height="1"/><rect x="268" y="356" width="5" height="1"/><rect x="273" y="355" width="4" height="1"/><rect x="277" y="354" width="5" height="1"/><rect x="282" y="353" width="4" height="1"/><rect x="286" y="352" width="5" height="1"/><rect x="291" y="351" width="4" height="1"/><rect x="295" y="350" width="4" height="1"/><rect x="299" y="349" width="5" height="1"/><rect x="304" y="348" width="4" height="1"/><rect x="308" y="347" width="5" height="1"/><rect x="313" y="346" width="4" height="1"/><rect x="317" y="345" width="5" height="1"/><rect x="322" y="344" width="4" height="1"/><rect x="326" y="343" width="5" height="1"/><rect x="331" y="342" width="4" height="1"/><rect x="335" y="341" width="5" height="1"/><rect x="340" y="340" width="4" height="1"/><rect x="344" y="339" width="5" height="1"/><rect x="349" y="338" width="4" height="1"/><rect x="353" y="337" width="4" height="1"/><rect x="357" y="336" width="5" height="1"/><rect x="362" y="335" width="4" height="1"/><rect x="366" y="334" width="5" height="1"/><rect x="371" y="333" width="4" height="1"/><rect x="375" y="332" width="5" height="1"/><rect x="380" y="331" width="4" height="1"/><rect x="384" y="330" width="5" height="1"/><rect x="389" y="329" width="4" height="1"/><rect x="393" y="328" width="5" height="1"/><rect x="398" y="327" width="4" height="1"/><rect x="402" y="326" width="4" height="1"/><rect x="406" y="325" width="5" height="1"/><rect x="411" y="324" width="4" height="1"/><rect x="415" y="323" width="5" height="1"/><rect x="420" y="322" width="4" height="1"/><rect x="424" y="321" width="5" height="1"/><rect x="429" y="320" width="4" height="1"/><rect x="433" y="319" width="5" height="1"/><rect x="438" y="318" width="4" height="1"/><rect x="442" y="317" width="5" height="1"/><rect x="447" y="316" width="4" height="1"/><rect x="451" y="315" width="4" height="1"/><rect x="455" y="314" width="5" height="1"/><rect x="460" y="313" width="4" height="1"/><rect x="464" y="312" width="5" height="1"/><rect x="469" y="311" width="4" height="1"/><rect x="473" y="310" width="5" height="1"/><rect x="478" y="309" width="4" height="1"/><rect x="482" y="308" width="5" height="1"/><rect x="487" y="307" width="4" height="1"/><rect x="491" y="306" width="5" height="1"/><rect x="496" y="305" width="4" height="1"/><rect x="500" y="304" width="5" height="1"/><rect x="505" y="303" width="4" height="1"/><rect x="509" y="302" width="4" height="1"/><rect x="513" y="301" width="5" height="1"/><rect x="518" y="300" width="4" height="1"/><rect x="522" y="299" width="5" height="1"/><rect x="527" y="298" width="4" height="1"/><rect x="531" y="297" width="5" height="1"/><rect x="536" y="296" width="4" height="1"/><rect x="540" y="295" width="5" height="1"/><rect x="545" y="294" width="4" height="1"/><rect x="549" y="293" width="5" height="1"/><rect x="554" y="292" width="4" height="1"/><rect x="558" y="291" width="4" height="1"/><rect x="562" y="290" width="5" height="1"/><rect x="567" y="289" width="4" height="1"/><rect x="571" y="288" width="5" height="1"/><rect x="576" y="287" width="4" height="1"/><rect x="580" y="286" width="5" height="1"/><rect x="585" y="285" width="4" height="1"/><rect x="589" y="284" width="5" height="1"/><rect x="594" y="283" width="4" height="1"/><rect x="598" y="282" width="5" height="1"/><rect x="603" y="281" width="4" height="1"/><rect x="607" y="280" width="4" height="1"/><rect x="611" y="279" width="5" height="1"/><rect x="616" y="278" width="4" height="1"/><rect x="620" y="277" width="5" height="1"/><rect x="625" y="276" width="4" height="1"/><rect x="629" y="275" width="5" height="1"/><rect x="634" y="274" width="4" height="1"/><rect x="638" y="273" width="5" height="1"/><rect x="643" y="272" width="4" height="1"/><rect x="647" y="271" width="5" height="1"/><rect x="652" y="270" width="4" height="1"/><rect x="656" y="269" width="5" height="1"/><rect x="661" y="268" width="4" height="1"/><rect x="665" y="267" width="4" height="1"/><rect x="669" y="266" width="5" height="1"/><rect x="674" y="265" width="4" height="1"/><rect x="678" y="264" width="5" height="1"/><rect x="683" y="263" width="4" height="1"/><rect x="687" y="262" width="5" height="1"/><rect x="692" y="261" width="4" height="1"/><rect x="696" y="260" width="5" height="1"/><rect x="701" y="259" width="4" height="1"/><rect x="705" y="258" width="5" height="1"/><rect x="710" y="257" width="4" height="1"/><rect x="714" y="256" width="4" height="1"/><rect x="718" y="255" width="5" height="1"/><rect x="723" y="254" width="4" height="1"/><rect x="727" y="253" width="5" height="1"/><rect x="732" y="252" width="4" height="1"/><rect x="736" y="251" width="5" height="1"/><rect x="741" y="250" width="4" height="1"/><rect x="745" y="249" width="5" height="1"/><rect x="750" y="248" width="4" height="1"/><rect x="754" y="247" width="5" height="1"/><rect x="759" y="246" width="4" height="1"/><rect x="763" y="245" width="4" height="1"/><rect x="767" y="244" width="5" height="1"/><rect x="772" y="243" width="4" height="1"/><rect x="776" y="242" width="5" height="1"/><rect x="781" y="241" width="4" height="1"/><rect x="785" y="240" width="5" height="1"/><rect x="790" y="239" width="4" height="1"/><rect x="794" y="238" width="5" height="1"/><rect x="799" y="237" width="4" height="1"/><rect x="803" y="236" width="5" height="1"/><rect x="808" y="235" width="4" height="1"/><rect x="812" y="234" width="5" height="1"/><rect x="817" y="233" width="4" height="1"/><rect x="821" y="232" width="4" height="1"/><rect x="825" y="231" width="5" height="1"/><rect x="830" y="230" width="4" height="1"/><rect x="834" y="229" width="5" height="1"/><rect x="839" y="228" width="4" height="1"/><rect x="843" y="227" width="5" height="1"/><rect x="848" y="226" width="4" height="1"/><rect x="852" y="225" width="5" height="1"/><rect x="857" y="224" width="4" height="1"/><rect x="861" y="223" width="5" height="1"/><rect x="866" y="222" width="4" height="1"/><rect x="870" y="221" width="4" height="1"/><rect x="874" y="220" width="5" height="1"/><rect x="879" y="219" width="4" height="1"/><rect x="883" y="218" width="5" height="1"/><rect x="888" y="217" width="4" height="1"/><rect x="892" y="216" width="5" height="1"/><rect x="897" y="215" width="4" height="1"/><rect x="901" y="214" width="5" height="1"/><rect x="906" y="213" width="4" height="1"/><rect x="910" y="212" width="5" height="1"/><rect x="915" y="211" width="4" height="1"/><rect x="919" y="210" width="4" height="1"/><rect x="923" y="209" width="5" height="1"/><rect x="928" y="208" width="4" height="1"/><rect x="932" y="207" width="5" height="1"/><rect x="937" y="206" width="4" height="1"/><rect x="941" y="205" width="2" height="1"/><rect x="614" y="280" width="1" height="1"/><rect x="615" y="279" width="1" height="1"/><rect x="616" y="278" width="2" height="1"/><rect x="618" y="277" width="1" height="1"/><rect x="619" y="276" width="1" height="1"/><rect x="620" y="275" width="1" height="1"/><rect x="621" y="274" width="1" height="1"/><rect x="622" y="273" width="2" height="1"/><rect x="624" y="272" width="1" height="1"/><rect x="625" y="271" width="1" height="1"/><rect x="626" y="270" width="1" height="1"/><rect x="627" y="269" width="1" height="1"/><rect x="628" y="268" width="2" height="1"/><rect x="630" y="267" width="1" height="1"/><rect x="631" y="266" width="1" height="1"/><rect x="632" y="265" width="1" height="1"/><rect x="633" y="264" width="2" height="1"/><rect x="635" y="263" width="1" height="1"/><rect x="636" y="262" width="1" height="1"/><rect x="637" y="261" width="1" height="1"/><rect x="638" y="260" width="1" height="1"/><rect x="639" y="259" width="2" height="1"/><rect x="641" y="258" width="1" height="1"/><rect x="642" y="257" width="1" height="1"/><rect x="643" y="256" width="1" height="1"/><rect x="644" y="255" width="1" height="1"/><rect x="645" y="254" width="2" height="1"/><rect x="647" y="253" width="1" height="1"/><rect x="648" y="252" width="1" height="1"/><rect x="649" y="251" width="1" height="1"/><rect x="650" y="250" width="1" height="1"/><rect x="651" y="249" width="2" height="1"/><rect x="653" y="248" width="1" height="1"/><rect x="654" y="247" width="1" height="1"/><rect x="655" y="246" width="1" height="1"/><rect x="656" y="245" width="1" height="1"/><rect x="657" y="244" width="2" height="1"/><rect x="659" y="243" width="1" height="1"/><rect x="660" y="242" width="1" height="1"/><rect x="661" y="241" width="1" height="1"/><rect x="662" y="240" width="1" height="1"/><rect x="663" y="239" width="2" height="1"/><rect x="665" y="238" width="1" height="1"/><rect x="666" y="237" width="1" height="1"/><rect x="667" y="236" width="1" height="1"/><rect x="668" y="235" width="2" height="1"/><rect x="670" y="234" width="1" height="1"/><rect x="671" y="233" width="1" height="1"/><rect x="672" y="232" width="1" height="1"/><rect x="673" y="231" width="1" height="1"/><rect x="674" y="230" width="2" height="1"/><rect x="676" y="229" width="1" height="1"/><rect x="677" y="228" width="1" height="1"/><rect x="678" y="227" width="1" height="1"/><rect x="679" y="226" width="1" height="1"/><rect x="680" y="225" width="2" height="1"/><rect x="682" y="224" width="1" height="1"/><rect x="683" y="223" width="1" height="1"/><rect x="684" y="222" width="1" height="1"/><rect x="685" y="221" width="1" height="1"/><rect x="686" y="220" width="2" height="1"/><rect x="688" y="219" width="1" height="1"/><rect x="689" y="218" width="1" height="1"/><rect x="690" y="217" width="1" height="1"/><rect x="691" y="216" width="1" height="1"/><rect x="692" y="215" width="2" height="1"/><rect x="694" y="214" width="1" height="1"/><rect x="695" y="213" width="1" height="1"/><rect x="696" y="212" width="1" height="1"/><rect x="697" y="211" width="1" height="1"/><rect x="698" y="210" width="2" height="1"/><rect x="700" y="209" width="1" height="1"/><rect x="701" y="208" width="1" height="1"/><rect x="702" y="207" width="1" height="1"/><rect x="703" y="206" width="2" height="1"/><rect x="705" y="205" width="1" height="1"/><rect x="706" y="204" width="1" height="1"/><rect x="707" y="203" width="1" height="1"/><rect x="708" y="202" width="1" height="1"/><rect x="709" y="201" width="2" height="1"/><rect x="711" y="200" width="1" height="1"/><rect x="712" y="199" width="1" height="1"/><rect x="713" y="198" width="1" height="1"/><rect x="714" y="197" width="1" height="1"/><rect x="715" y="196" width="2" height="1"/><rect x="717" y="195" width="1" height="1"/><rect x="718" y="194" width="1" height="1"/><rect x="719" y="193" width="1" height="1"/><rect x="720" y="192" width="1" height="1"/><rect x="721" y="191" width="2" height="1"/><rect x="723" y="190" width="1" height="1"/><rect x="724" y="189" width="1" height="1"/><rect x="725" y="188" width="1" height="1"/><rect x="726" y="187" width="1" height="1"/><rect x="727" y="186" width="2" height="1"/><rect x="729" y="185" width="1" height="1"/><rect x="730" y="184" width="1" height="1"/><rect x="731" y="183" width="1" height="1"/><rect x="732" y="182" width="1" height="1"/><rect x="733" y="181" width="2" height="1"/><rect x="735" y="180" width="1" height="1"/><rect x="736" y="179" width="1" height="1"/><rect x="737" y="178" width="1" height="1"/><rect x="738" y="177" width="2" height="1"/><rect x="740" y="176" width="1" height="1"/><rect x="741" y="175" width="1" height="1"/><rect x="742" y="174" width="1" height="1"/><rect x="743" y="173" width="1" height="1"/><rect x="744" y="172" width="2" height="1"/><rect x="746" y="171" width="1" height="1"/><rect x="747" y="170" width="1" height="1"/><rect x="748" y="169" width="1" height="1"/><rect x="749" y="168" width="1" height="1"/><rect x="750" y="167" width="2" height="1"/><rect x="752" y="166" width="1" height="1"/><rect x="753" y="165" width="1" height="1"/><rect x="754" y="164" width="1" height="1"/><rect x="755" y="163" width="1" height="1"/><rect x="756" y="162" width="2" height="1"/><rect x="758" y="161" width="1" height="1"/><rect x="759" y="160" width="1" height="1"/><rect x="760" y="159" width="1" height="1"/><rect x="761" y="158" width="1" height="1"/><rect x="762" y="157" width="2" height="1"/><rect x="764" y="156" width="1" height="1"/><rect x="765" y="155" width="1" height="1"/><rect x="766" y="154" width="1" height="1"/><rect x="767" y="153" width="1" height="1"/><rect x="768" y="152" width="2" height="1"/><rect x="770" y="151" width="1" height="1"/><rect x="771" y="150" width="1" height="1"/><rect x="772" y="149" width="1" height="1"/><rect x="773" y="148" width="2" height="1"/><rect x="775" y="147" width="1" height="1"/><rect x="776" y="146" width="1" height="1"/><rect x="777" y="145" width="1" height="1"/><rect x="778" y="144" width="1" height="1"/><rect x="779" y="143" width="2" height="1"/><rect x="781" y="142" width="1" height="1"/><rect x="782" y="141" width="1" height="1"/><rect x="783" y="140" width="1" height="1"/><rect x="784" y="139" width="1" height="1"/><rect x="785" y="138" width="2" height="1"/><rect x="787" y="137" width="1" height="1"/><rect x="788" y="136" width="1" height="1"/><rect x="789" y="135" width="1" height="1"/><rect x="790" y="134" width="1" height="1"/><rect x="791" y="133" width="2" height="1"/><rect x="793" y="132" width="1" height="1"/><rect x="794" y="131" width="1" height="1"/><rect x="795" y="130" width="1" height="1"/><rect x="796" y="129" width="1" height="1"/><rect x="797" y="128" width="2" height="1"/><rect x="799" y="127" width="1" height="1"/><rect x="800" y="126" width="1" height="1"/><rect x="801" y="125" width="1" height="1"/><rect x="802" y="124" width="1" height="1"/><rect x="803" y="123" width="2" height="1"/><rect x="805" y="122" width="1" height="1"/><rect x="806" y="121" width="1" height="1"/><rect x="807" y="120" width="1" height="1"/><rect x="808" y="119" width="2" height="1"/><rect x="810" y="118" width="1" height="1"/><rect x="811" y="117" width="1" height="1"/><rect x="812" y="116" width="1" height="1"/><rect x="813" y="115" width="1" height="1"/><rect x="814" y="114" width="2" height="1"/><rect x="816" y="113" width="1" height="1"/><rect x="817" y="112" width="1" height="1"/><rect x="818" y="111" width="1" height="1"/><rect x="819" y="110" width="1" height="1"/><rect x="820" y="109" width="2" height="1"/><rect x="822" y="108" width="1" height="1"/><rect x="823" y="107" width="1" height="1"/><rect x="824" y="106" width="1" height="1"/><rect x="825" y="105" width="1" height="1"/><rect x="826" y="104" width="2" height="1"/><rect x="828" y="103" width="1" height="1"/><rect x="829" y="102" width="1" height="1"/><rect x="830" y="101" width="1" height="1"/><rect x="831" y="100" width="1" height="1"/><rect x="832" y="99" width="2" height="1"/><rect x="834" y="98" width="1" height="1"/><rect x="835" y="97" width="1" height="1"/><rect x="836" y="96" width="1" height="1"/><rect x="837" y="95" width="1" height="1"/><rect x="838" y="94" width="2" height="1"/><rect x="840" y="93" width="1" height="1"/><rect x="841" y="92" width="1" height="1"/><rect x="842" y="91" width="1" height="1"/><rect x="843" y="90" width="2" height="1"/><rect x="845" y="89" width="1" height="1"/><rect x="846" y="88" width="1" height="1"/><rect x="847" y="87" width="1" height="1"/><rect x="848" y="86" width="1" height="1"/><rect x="849" y="85" width="2" height="1"/><rect x="851" y="84" width="1" height="1"/><rect x="852" y="83" width="1" height="1"/><rect x="853" y="82" width="1" height="1"/><rect x="854" y="81" width="1" height="1"/><rect x="855" y="80" width="2" height="1"/><rect x="857" y="79" width="1" height="1"/><rect x="858" y="78" width="1" height="1"/><rect x="859" y="77" width="1" height="1"/><rect x="860" y="76" width="1" height="1"/><rect x="861" y="75" width="2" height="1"/><rect x="863" y="74" width="1" height="1"/><rect x="864" y="73" width="1" height="1"/><rect x="865" y="72" width="1" height="1"/><rect x="866" y="71" width="1" height="1"/><rect x="867" y="70" width="2" height="1"/><rect x="869" y="69" width="1" height="1"/><rect x="870" y="68" width="1" height="1"/><rect x="871" y="67" width="1" height="1"/><rect x="872" y="66" width="1" height="1"/><rect x="873" y="65" width="2" height="1"/><rect x="875" y="64" width="1" height="1"/><rect x="876" y="63" width="1" height="1"/><rect x="877" y="62" width="1" height="1"/><rect x="878" y="61" width="2" height="1"/><rect x="880" y="60" width="1" height="1"/><rect x="881" y="59" width="1" height="1"/><rect x="882" y="58" width="1" height="1"/><rect x="883" y="57" width="1" height="1"/><rect x="884" y="56" width="2" height="1"/><rect x="886" y="55" width="1" height="1"/><rect x="887" y="54" width="1" height="1"/><rect x="888" y="53" width="1" height="1"/><rect x="889" y="52" width="1" height="1"/><rect x="890" y="51" width="2" height="1"/><rect x="892" y="50" width="1" height="1"/><rect x="893" y="49" width="1" height="1"/><rect x="894" y="48" width="1" height="1"/><rect x="895" y="47" width="1" height="1"/><rect x="896" y="46" width="2" height="1"/><rect x="898" y="45" width="1" height="1"/><rect x="899" y="44" width="1" height="1"/><rect x="900" y="43" width="1" height="1"/><rect x="901" y="42" width="1" height="1"/><rect x="902" y="41" width="2" height="1"/><rect x="904" y="40" width="1" height="1"/><rect x="905" y="39" width="1" height="1"/><rect x="906" y="38" width="1" height="1"/><rect x="907" y="37" width="1" height="1"/><rect x="908" y="36" width="2" height="1"/><rect x="910" y="35" width="1" height="1"/><rect x="911" y="34" width="1" height="1"/><rect x="912" y="33" width="1" height="1"/><rect x="913" y="32" width="2" height="1"/><rect x="915" y="31" width="1" height="1"/><rect x="916" y="30" width="1" height="1"/><rect x="917" y="29" width="1" height="1"/><rect x="918" y="28" width="1" height="1"/><rect x="919" y="27" width="2" height="1"/><rect x="921" y="26" width="1" height="1"/><rect x="922" y="25" width="1" height="1"/><rect x="923" y="24" width="1" height="1"/><rect x="924" y="23" width="1" height="1"/><rect x="925" y="22" width="2" height="1"/><rect x="927" y="21" width="1" height="1"/><rect x="928" y="20" width="1" height="1"/><rect x="929" y="19" width="1" height="1"/><rect x="930" y="18" width="1" height="1"/><rect x="931" y="17" width="2" height="1"/><rect x="933" y="16" width="1" height="1"/><rect x="934" y="15" width="1" height="1"/></g>
<rect x="4.5" y="14.5" width="939" height="373" fill="none" stroke="#000" stroke-width="1"/>
<g class="tx" shape-rendering="auto"><text y="11" class="ti"><tspan x="5" textLength="27.1" lengthAdjust="spacingAndGlyphs">Gold,</tspan> <tspan x="36.1" textLength="23.7" lengthAdjust="spacingAndGlyphs">spot</tspan> <tspan x="62.3">,</tspan> <tspan x="69.4" textLength="28.4" lengthAdjust="spacingAndGlyphs">Daily,</tspan> <tspan x="100.3" textLength="8.4" lengthAdjust="spacingAndGlyphs">#</tspan> <tspan x="110.8" textLength="21.2" lengthAdjust="spacingAndGlyphs">200</tspan> <tspan x="136" textLength="4" lengthAdjust="spacingAndGlyphs">/</tspan> <tspan x="144.1" textLength="20.7" lengthAdjust="spacingAndGlyphs">500</tspan></text><text x="948.8" y="42" class="yl">1,900.000</text><text x="948.8" y="71" class="yl">1,850.000</text><text x="948.8" y="99" class="yl">1,800.000</text><text x="948.8" y="128" class="yl">1,750.000</text><text x="948.8" y="157" class="yl">1,700.000</text><text x="948.8" y="186" class="yl">1,650.000</text><text x="948.8" y="214" class="yl">1,600.000</text><text x="948.8" y="243" class="yl">1,550.000</text><text x="948.8" y="272" class="yl">1,500.000</text><text x="948.8" y="301" class="yl">1,450.000</text><text x="948.8" y="329" class="yl">1,400.000</text><text x="948.8" y="358" class="yl">1,350.000</text><text x="948.8" y="387" class="yl">1,300.000</text><text x="136.1" y="402" class="xl" text-anchor="middle">17</text><text x="156.1" y="402" class="xl" text-anchor="middle">24</text><text x="176.1" y="402" class="xl" text-anchor="middle">31</text><text x="196.1" y="402" class="xl" text-anchor="middle">07</text><text x="217.1" y="402" class="xl" text-anchor="middle">14</text><text x="237.1" y="402" class="xl" text-anchor="middle">21</text><text x="257.1" y="402" class="xl" text-anchor="middle">28</text><text x="277.1" y="402" class="xl" text-anchor="middle">07</text><text x="298.1" y="402" class="xl" text-anchor="middle">14</text><text x="318.1" y="402" class="xl" text-anchor="middle">21</text><text x="337.1" y="402" class="xl" text-anchor="middle">28</text><text x="358.1" y="402" class="xl" text-anchor="middle">04</text><text x="378.1" y="402" class="xl" text-anchor="middle">11</text><text x="398.1" y="402" class="xl" text-anchor="middle">18</text><text x="414.1" y="402" class="xl" text-anchor="middle">25</text><text x="435.1" y="402" class="xl" text-anchor="middle">02</text><text x="455.1" y="402" class="xl" text-anchor="middle">09</text><text x="475.1" y="402" class="xl" text-anchor="middle">16</text><text x="495.1" y="402" class="xl" text-anchor="middle">23</text><text x="516.1" y="402" class="xl" text-anchor="middle">30</text><text x="536.1" y="402" class="xl" text-anchor="middle">06</text><text x="556.1" y="402" class="xl" text-anchor="middle">13</text><text x="576.1" y="402" class="xl" text-anchor="middle">20</text><text x="597.1" y="402" class="xl" text-anchor="middle">27</text><text x="617.1" y="402" class="xl" text-anchor="middle">04</text><text x="637.1" y="402" class="xl" text-anchor="middle">11</text><text x="657.1" y="402" class="xl" text-anchor="middle">18</text><text x="678.1" y="402" class="xl" text-anchor="middle">25</text><text x="718.1" y="402" class="xl" text-anchor="middle">08</text><text x="738.1" y="402" class="xl" text-anchor="middle">15</text><text x="759.1" y="402" class="xl" text-anchor="middle">22</text><text x="779.1" y="402" class="xl" text-anchor="middle">29</text><text x="799.1" y="402" class="xl" text-anchor="middle">05</text><text x="819.1" y="402" class="xl" text-anchor="middle">12</text><text x="840.1" y="402" class="xl" text-anchor="middle">19</text><text x="860.1" y="402" class="xl" text-anchor="middle">26</text><text x="880.1" y="402" class="xl" text-anchor="middle">03</text><text x="901.1" y="402" class="xl" text-anchor="middle">10</text><text x="921.1" y="402" class="xl" text-anchor="middle">17</text><text y="417" class="ml"><tspan x="67.02">Jan</tspan><tspan x="84.68" textLength="4.6" lengthAdjust="spacingAndGlyphs">/</tspan><tspan x="90.28">03</tspan><tspan x="104.68" textLength="4.6" lengthAdjust="spacingAndGlyphs">/</tspan><tspan x="110.28">11</tspan></text><text y="417" class="ml"><tspan x="176.76">Feb</tspan><tspan x="196.94" textLength="4.6" lengthAdjust="spacingAndGlyphs">/</tspan><tspan x="202.54">07</tspan></text><text y="417" class="ml"><tspan x="257.125">Mar</tspan><tspan x="278.575" textLength="4.6" lengthAdjust="spacingAndGlyphs">/</tspan><tspan x="284.175">07</tspan></text><text y="417" class="ml"><tspan x="338.985">Apr</tspan><tspan x="358.715" textLength="4.6" lengthAdjust="spacingAndGlyphs">/</tspan><tspan x="364.315">04</tspan></text><text y="417" class="ml"><tspan x="414.13">May</tspan><tspan x="437.57" textLength="4.6" lengthAdjust="spacingAndGlyphs">/</tspan><tspan x="443.17">02</tspan></text><text y="417" class="ml"><tspan x="517.905">Jun</tspan><tspan x="535.795" textLength="4.6" lengthAdjust="spacingAndGlyphs">/</tspan><tspan x="541.395">06</tspan></text><text y="417" class="ml"><tspan x="600.865">Jul</tspan><tspan x="614.835" textLength="4.6" lengthAdjust="spacingAndGlyphs">/</tspan><tspan x="620.435">04</tspan></text><text y="417" class="ml"><tspan x="697.76">Aug</tspan><tspan x="719.94" textLength="4.6" lengthAdjust="spacingAndGlyphs">/</tspan><tspan x="725.54">08</tspan></text><text y="417" class="ml"><tspan x="779.135">Sep</tspan><tspan x="800.565" textLength="4.6" lengthAdjust="spacingAndGlyphs">/</tspan><tspan x="806.165">05</tspan></text><text y="417" class="ml"><tspan x="860.99">Oct</tspan><tspan x="880.71" textLength="4.6" lengthAdjust="spacingAndGlyphs">/</tspan><tspan x="886.31">03</tspan></text></g>
<rect x="4.5" y="390.5" width="130" height="15" fill="#fff" stroke="#ff0000"/>
<rect x="946.5" y="57.5" width="60" height="12" fill="#fff" stroke="#ff0000"/>
<rect x="946.5" y="-5.5" width="60" height="12" fill="#fff" stroke="#ff0000"/>
<g class="tx" shape-rendering="auto"><text y="402" class="dt" fill="#0000ff"><tspan x="6.1">Oct</tspan><tspan x="25.7" textLength="4.6" lengthAdjust="spacingAndGlyphs">/</tspan><tspan x="31.2">09</tspan><tspan x="45.9" textLength="4.6" lengthAdjust="spacingAndGlyphs">/</tspan><tspan x="51.2">2009</tspan> <tspan x="82.4">01</tspan><tspan x="95.6">:</tspan><tspan x="99.5">00</tspan><tspan x="112.3">:</tspan><tspan x="116.6">00</tspan></text><text x="948.4" y="68" class="yl" fill="#0000ff">1,854.650</text><text x="948.4" y="5" class="yl" fill="#0000ff">1,964.244</text><text x="942.7" y="30" class="pl" text-anchor="end" fill="#0000ff">1,909.660</text></g>
</svg>
</div></body></html>
